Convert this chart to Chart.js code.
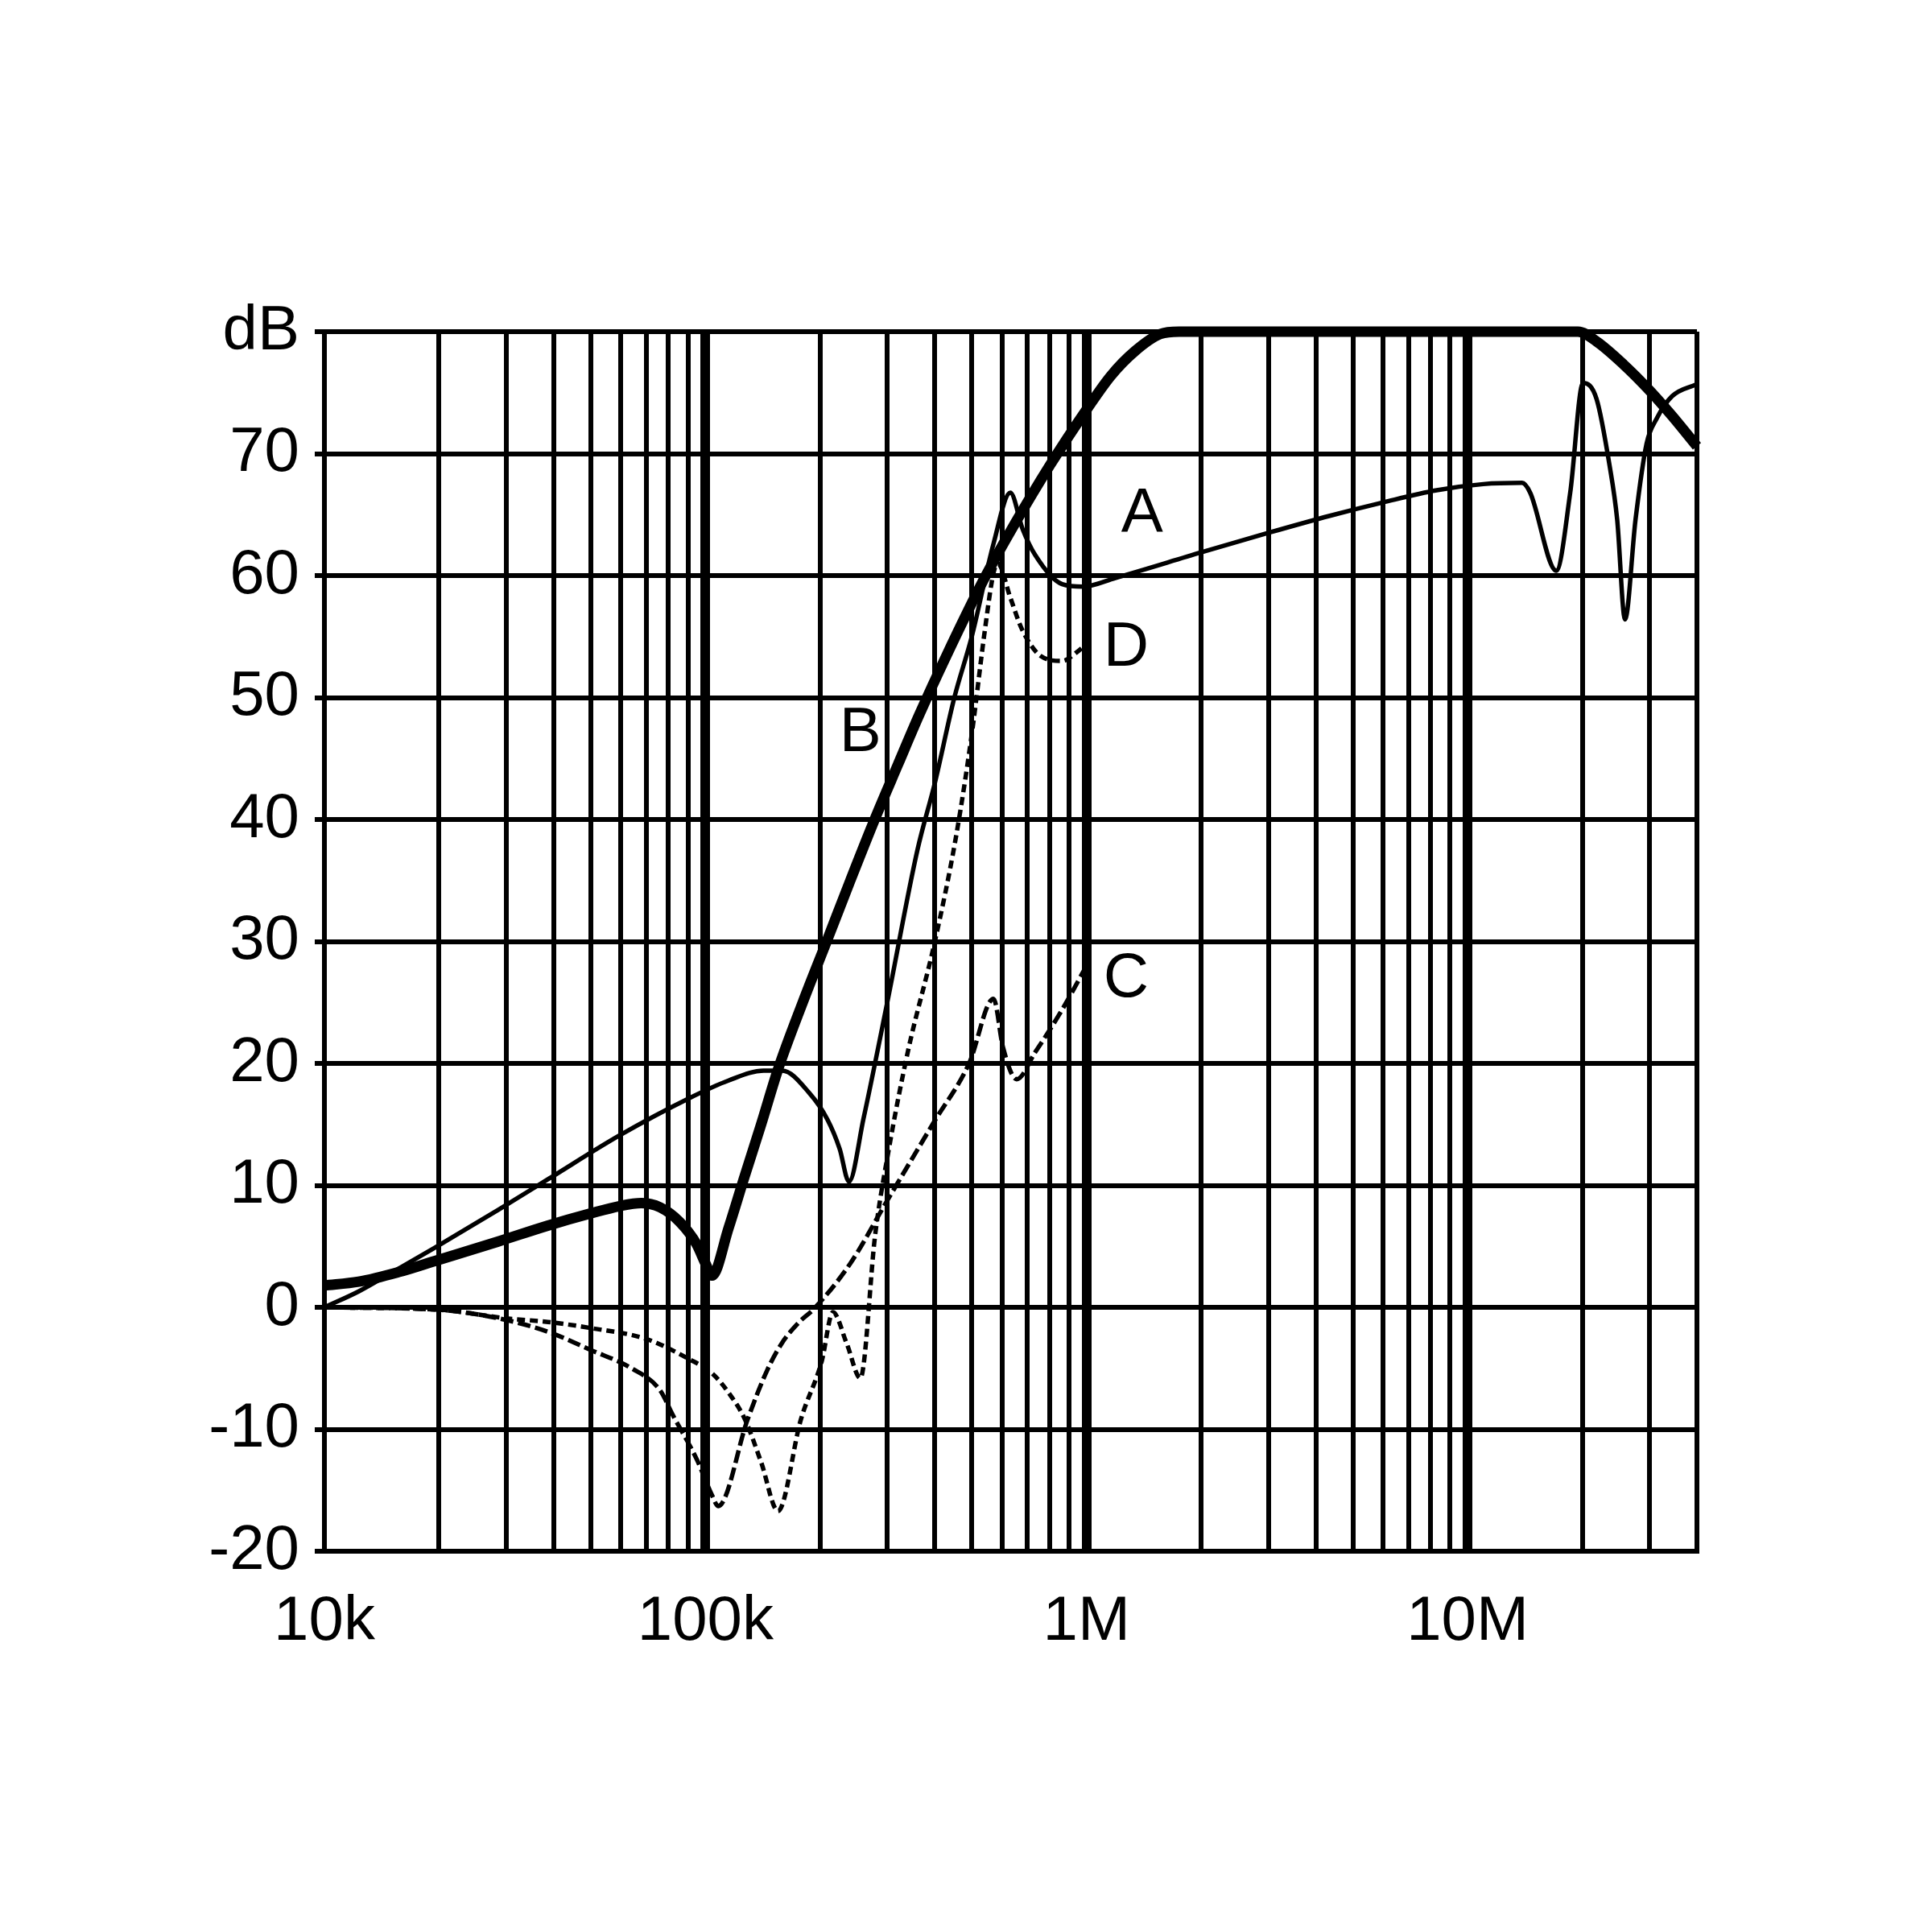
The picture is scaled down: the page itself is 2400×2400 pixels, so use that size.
<!DOCTYPE html>
<html lang="en">
<head>
<meta charset="UTF-8">
<title>Level vs frequency</title>
<script src="https://cdn.jsdelivr.net/npm/chart.js"></script>
<style>
    body { margin: 0; background: #fff; }
    #wrap { width: 2400px; height: 2400px; }
</style>
</head>
<body>
<div id="wrap"><canvas id="chartCanvas" width="2400" height="2400"></canvas></div>
<script>
// frequencies in Hz, levels in dB
const freqA = [10000, 12300, 15700, 19500, 28600, 38600, 59500, 90000, 115000, 142000, 159000, 187000, 209000, 225000, 238000, 260000, 300000, 360000, 400000, 450000, 500000, 570000, 631000, 680000, 733000, 863000, 980000, 1190000, 2000000, 3000000, 4350000, 6000000, 8300000, 11000000, 13900000, 14600000, 17100000, 18600000, 20100000, 21800000, 23600000, 24700000, 25900000, 27600000, 29500000, 31400000, 34400000, 40000000];
const dbA = [0, 1.3, 3.2, 4.9, 8.0, 10.5, 14.1, 17.1, 18.6, 19.4, 19.4, 17.6, 15.4, 13.0, 10.3, 15.5, 25.0, 37.5, 43.0, 50.0, 55.0, 62.6, 66.8, 63.8, 61.7, 59.3, 59.1, 59.8, 61.9, 63.5, 64.9, 66.0, 67.0, 67.5, 67.6, 66.8, 60.4, 66.8, 75.8, 74.5, 69.0, 64.6, 56.4, 64.6, 70.8, 72.9, 74.7, 75.7];

const freqB = [10000, 12300, 15700, 19500, 28600, 38600, 50000, 59500, 67800, 76000, 85600, 94700, 100000, 104000, 115000, 126000, 140000, 155000, 180000, 208000, 240000, 278000, 320000, 363000, 430000, 534000, 650000, 800000, 1000000, 1160000, 1340000, 1560000, 1750000, 19500000, 21800000, 25700000, 30000000, 34400000, 40000000];
const dbB = [1.8, 2.1, 2.9, 3.8, 5.4, 6.7, 7.7, 8.3, 8.55, 8.2, 7.0, 5.2, 3.6, 2.6, 6.5, 10.5, 15.0, 19.5, 25.0, 30.0, 35.0, 40.0, 44.5, 48.5, 53.5, 59.5, 64.3, 69.0, 73.6, 76.4, 78.4, 79.8, 80, 80, 79.2, 77.3, 75.2, 73.1, 70.6];

const freqC = [10000, 20000, 28600, 38600, 50000, 64000, 76000, 82000, 95000, 104000, 108000, 129000, 145000, 159000, 175000, 193000, 240000, 298000, 398000, 492000, 570000, 604000, 656000, 733000, 863000, 1000000];
const dbC = [0, -0.2, -0.9, -2.0, -3.5, -5.0, -6.8, -8.8, -12.5, -15.4, -16.3, -9.2, -5.2, -2.9, -1.3, -0.1, 3.6, 8.6, 15.2, 20.0, 25.3, 21.3, 18.7, 20.9, 24.4, 28.0];

const freqD = [10000, 20000, 30000, 38600, 50000, 70000, 90000, 104000, 115000, 127000, 140000, 155000, 178000, 202000, 216000, 235000, 255000, 279000, 303000, 340000, 400000, 454000, 500000, 541000, 570000, 585000, 631000, 677000, 759000, 863000, 950000, 1000000];
const dbD = [0, -0.2, -0.9, -1.2, -1.7, -2.6, -4.2, -5.4, -7.0, -9.2, -12.7, -16.7, -9.2, -4.4, -0.4, -3.0, -5.8, 6.0, 13.0, 21.0, 30.0, 38.5, 47.0, 55.5, 60.2, 61.0, 58.2, 55.6, 53.4, 53.0, 53.8, 54.4];

// grid and tick labels
const gridFreqs = [10000, 20000, 30000, 40000, 50000, 60000, 70000, 80000, 90000,
    100000, 200000, 300000, 400000, 500000, 600000, 700000, 800000, 900000,
    1000000, 2000000, 3000000, 4000000, 5000000, 6000000, 7000000, 8000000, 9000000,
    10000000, 20000000, 30000000, 40000000];
const decadeFreqs = [100000, 1000000, 10000000];
const xTickValues = [10000, 100000, 1000000, 10000000];
const xTickLabels = ['10k', '100k', '1M', '10M'];
const yTickValues = [-20, -10, 0, 10, 20, 30, 40, 50, 60, 70, 80];
const yTickLabels = ['-20', '-10', '0', '10', '20', '30', '40', '50', '60', '70', 'dB'];

// curve names written on the plot
const curveNames = ['A', 'B', 'C', 'D'];
const nameFreqs = [1400000, 255000, 1270000, 1270000];
const nameDbs = [65.0, 47.0, 26.9, 54.0];

const FONT = '"Liberation Sans", Arial, sans-serif';

function curve(fs, ds, width, dash) {
    return {
        data: fs.map((f, i) => ({ x: f, y: ds[i] })),
        borderColor: '#000',
        borderWidth: width,
        borderDash: dash,
        borderJoinStyle: 'round',
        pointRadius: 0,
        fill: false,
        cubicInterpolationMode: 'monotone',
        clip: false
    };
}

const curveNamePlugin = {
    id: 'curveNames',
    afterDatasetsDraw(chart) {
        const c = chart.ctx;
        const xs = chart.scales.x, ys = chart.scales.y;
        c.save();
        c.font = '78px ' + FONT;
        c.fillStyle = '#000';
        c.textAlign = 'center';
        c.textBaseline = 'middle';
        curveNames.forEach((n, i) => {
            c.fillText(n, xs.getPixelForValue(nameFreqs[i]), ys.getPixelForValue(nameDbs[i]));
        });
        c.restore();
    }
};

const ctx = document.getElementById('chartCanvas').getContext('2d');
new Chart(ctx, {
    type: 'line',
    data: {
        datasets: [
            curve(freqC, dbC, 5.5, [16, 6]),
            curve(freqD, dbD, 5.5, [10, 6]),
            curve(freqA, dbA, 5.5, []),
            curve(freqB, dbB, 13, [])
        ]
    },
    plugins: [curveNamePlugin],
    options: {
        responsive: false,
        devicePixelRatio: 1,
        animation: false,
        layout: { padding: { top: 412, right: 292, bottom: 0, left: 0 } },
        plugins: { legend: { display: false }, tooltip: { enabled: false } },
        scales: {
            x: {
                type: 'logarithmic',
                min: 10000,
                max: 40000000,
                afterBuildTicks: s => { s.ticks = gridFreqs.map(v => ({ value: v })); },
                afterFit: s => { s.height = 473; },
                ticks: {
                    autoSkip: false,
                    maxRotation: 0,
                    padding: 42,
                    color: '#000',
                    font: { family: FONT, size: 78 },
                    callback: v => {
                        const i = xTickValues.indexOf(v);
                        return i >= 0 ? xTickLabels[i] : '';
                    }
                },
                grid: {
                    color: '#000',
                    lineWidth: c => (c.tick && decadeFreqs.includes(c.tick.value)) ? 12 : 6,
                    drawTicks: false
                },
                border: { display: true, color: '#000', width: 6 }
            },
            y: {
                type: 'linear',
                min: -20,
                max: 80,
                afterBuildTicks: s => { s.ticks = yTickValues.map(v => ({ value: v })); },
                afterFit: s => { s.width = 403; },
                ticks: {
                    padding: 19,
                    color: '#000',
                    font: { family: FONT, size: 78 },
                    callback: v => yTickLabels[yTickValues.indexOf(v)]
                },
                grid: { color: '#000', lineWidth: 6, tickLength: 12 },
                border: { display: true, color: '#000', width: 6 }
            }
        }
    }
});
</script>
</body>
</html>
